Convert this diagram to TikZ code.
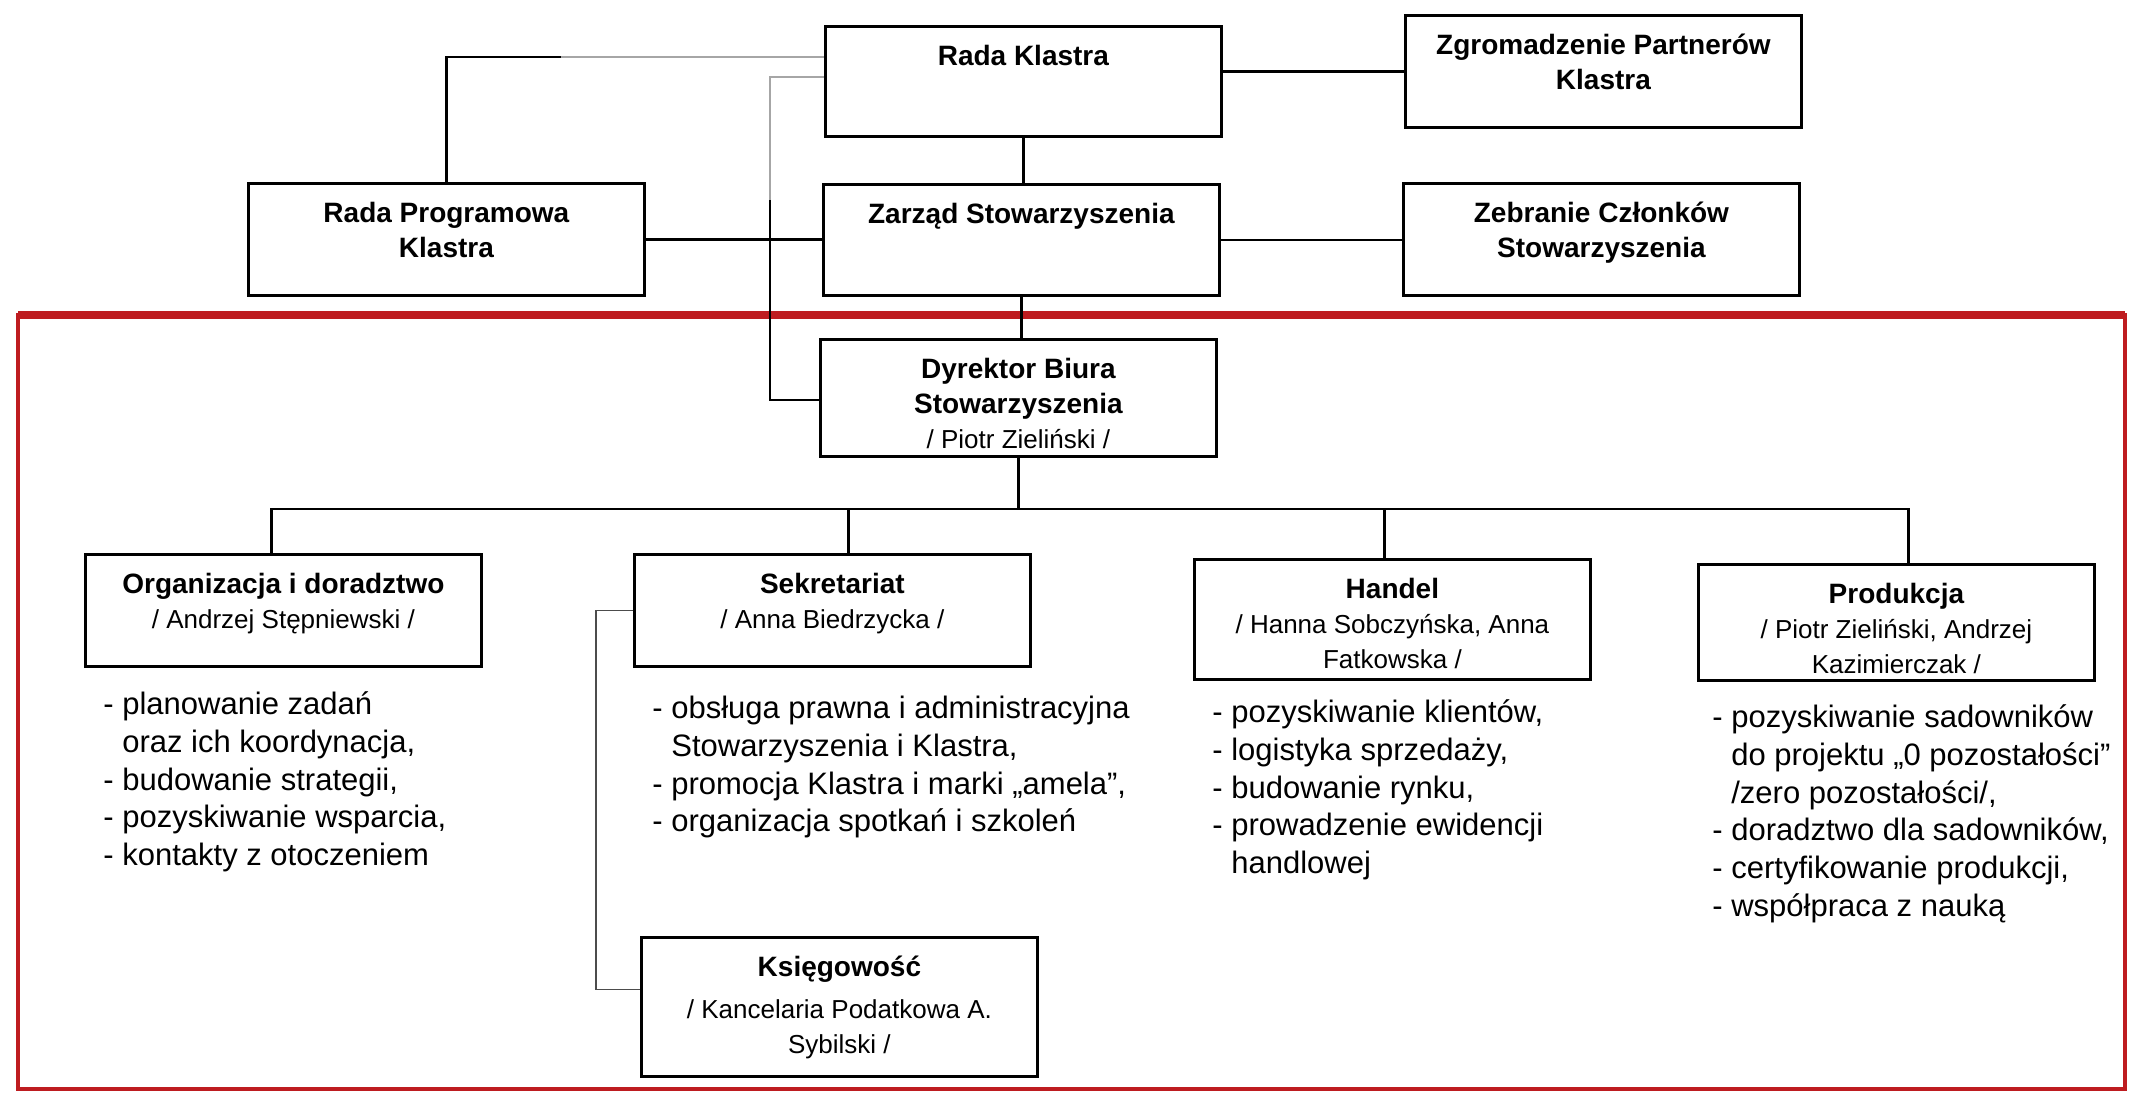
\documentclass[tikz,border=0pt]{standalone}
\usepackage{fontspec}
\setmainfont{Liberation Sans}
\usetikzlibrary{calc}
\definecolor{framered}{RGB}{190,28,32}
\definecolor{fadeline}{HTML}{A6A6A6}
\newcommand{\boxtitle}[1]{{\fontsize{14pt}{17.5pt}\selectfont\bfseries #1}}
\newcommand{\boxname}[1]{{\fontsize{13pt}{17.5pt}\selectfont #1}}
\newcommand{\boxtext}[2][56pt]{\parbox[c][#1][t]{198pt}{\centering\setlength{\baselineskip}{17.5pt}\rule{0pt}{19.5pt}#2\par}}
\tikzset{
  orgbox/.style   = {draw, line width=1.4pt, inner sep=0pt, anchor=north west},
  duty/.style     = {anchor=north west, inner sep=0pt, align=left,
                     font=\fontsize{15.5pt}{18.9pt}\selectfont},
  link/.style     = {draw=black, line width=1.2pt},
  fadelink/.style = {draw=fadeline, line width=1.1pt},
  thinlink/.style = {draw=black!70, line width=0.9pt},
  frame/.style    = {draw=framered, line width=2pt},
}
\begin{document}
\begin{tikzpicture}[x=0.5pt, y=-0.5pt]
  \useasboundingbox (0,0) rectangle (2131,1093);
  \draw[frame] (18,315) rectangle (2125,1089);
  \draw[frame, line width=4pt] (18,315) -- (2125,315);

  \node[orgbox] (rk) at (824,25) {\boxtext[55pt]{\boxtitle{Rada Klastra}}};
  \node[orgbox] (zp) at (1404,14) {\boxtext{\boxtitle{Zgromadzenie Partnerów\\Klastra}}};
  \node[orgbox] (rp) at (247,182) {\boxtext{\boxtitle{Rada Programowa\\Klastra}}};
  \node[orgbox] (zs) at (822,183) {\boxtext[55.5pt]{\boxtitle{Zarząd Stowarzyszenia}}};
  \node[orgbox] (zc) at (1402,182) {\boxtext{\boxtitle{Zebranie Członków\\Stowarzyszenia}}};
  \node[orgbox] (dyr) at (819,338) {\boxtext[58.5pt]{\boxtitle{Dyrektor Biura\\Stowarzyszenia}\\\boxname{/ Piotr Zieliński /}}};
  \node[orgbox] (org) at (84,553) {\boxtext{\boxtitle{Organizacja i doradztwo}\\\boxname{/ Andrzej Stępniewski /}}};
  \node[orgbox] (sek) at (633,553) {\boxtext{\boxtitle{Sekretariat}\\\boxname{/ Anna Biedrzycka /}}};
  \node[orgbox] (han) at (1193,558) {\boxtext[60pt]{\boxtitle{Handel}\\\boxname{/ Hanna Sobczyńska, Anna\\Fatkowska /}}};
  \node[orgbox] (pro) at (1697,563) {\boxtext[58pt]{\boxtitle{Produkcja}\\\boxname{/ Piotr Zieliński, Andrzej\\Kazimierczak /}}};
  \node[orgbox] (ksi) at (640,936) {\boxtext[69.5pt]{\boxtitle{Księgowość}\\[3.5pt]\boxname{/ Kancelaria Podatkowa A.\\Sybilski /}}};

  \node[duty] (orgduty) at (103,682) {\rule{0pt}{16pt}- planowanie zadań\\\hphantom{- }oraz ich koordynacja,\\- budowanie strategii,\\- pozyskiwanie wsparcia,\\- kontakty z otoczeniem};
  \node[duty] (sekduty) at (652,686) {\rule{0pt}{16pt}- obsługa prawna i administracyjna\\\hphantom{- }Stowarzyszenia i Klastra,\\- promocja Klastra i marki „amela”,\\- organizacja spotkań i szkoleń};
  \node[duty] (handuty) at (1212,690) {\rule{0pt}{16pt}- pozyskiwanie klientów,\\- logistyka sprzedaży,\\- budowanie rynku,\\- prowadzenie ewidencji\\\hphantom{- }handlowej};
  \node[duty] (produty) at (1712,695) {\rule{0pt}{16pt}- pozyskiwanie sadowników\\\hphantom{- }do projektu „0 pozostałości”\\\hphantom{- }/zero pozostałości/,\\- doradztwo dla sadowników,\\- certyfikowanie produkcji,\\- współpraca z nauką};

  \coordinate (rkin) at ($(rk.north west)+(0,32)$);
  \coordinate (rkout) at ($(rk.north west)+(0,52)$);
  \coordinate (fade) at (561,57);
  \coordinate (side) at (770,200);
  \coordinate (dyrin) at ($(dyr.north west)+(0,62)$);
  \coordinate (busy) at (0,509);

  \draw[link] (rk.east |- zp.west) -- (zp.west);
  \draw[link] (rk.south) -- (rk.south |- zs.north);
  \draw[link] (rp.east) -- (rp.east -| zs.west);
  \draw[link] (zs.east) -- (zs.east -| zc.west);
  \draw[link] (zs.south) -- (zs.south |- dyr.north);
  \draw[link] (rp.north) |- (fade);
  \draw[fadelink] (fade) -- (rkin);
  \draw[fadelink] (rkout) -| (side);
  \draw[link, line width=1pt] (side) |- (dyrin);
  \draw[link] (dyr.south) -- (dyr.south |- busy) coordinate (bus);
  \foreach \dept/\dx in {org/-12, sek/16, han/-8, pro/12}
    \draw[link] ($(\dept.north)+(\dx,0)$) |- (bus);
  \draw[thinlink] (sek.west) -| ($(ksi.west)+(-44,-17.5)$) -- ($(ksi.west)+(0,-17.5)$);
\end{tikzpicture}
\end{document}
